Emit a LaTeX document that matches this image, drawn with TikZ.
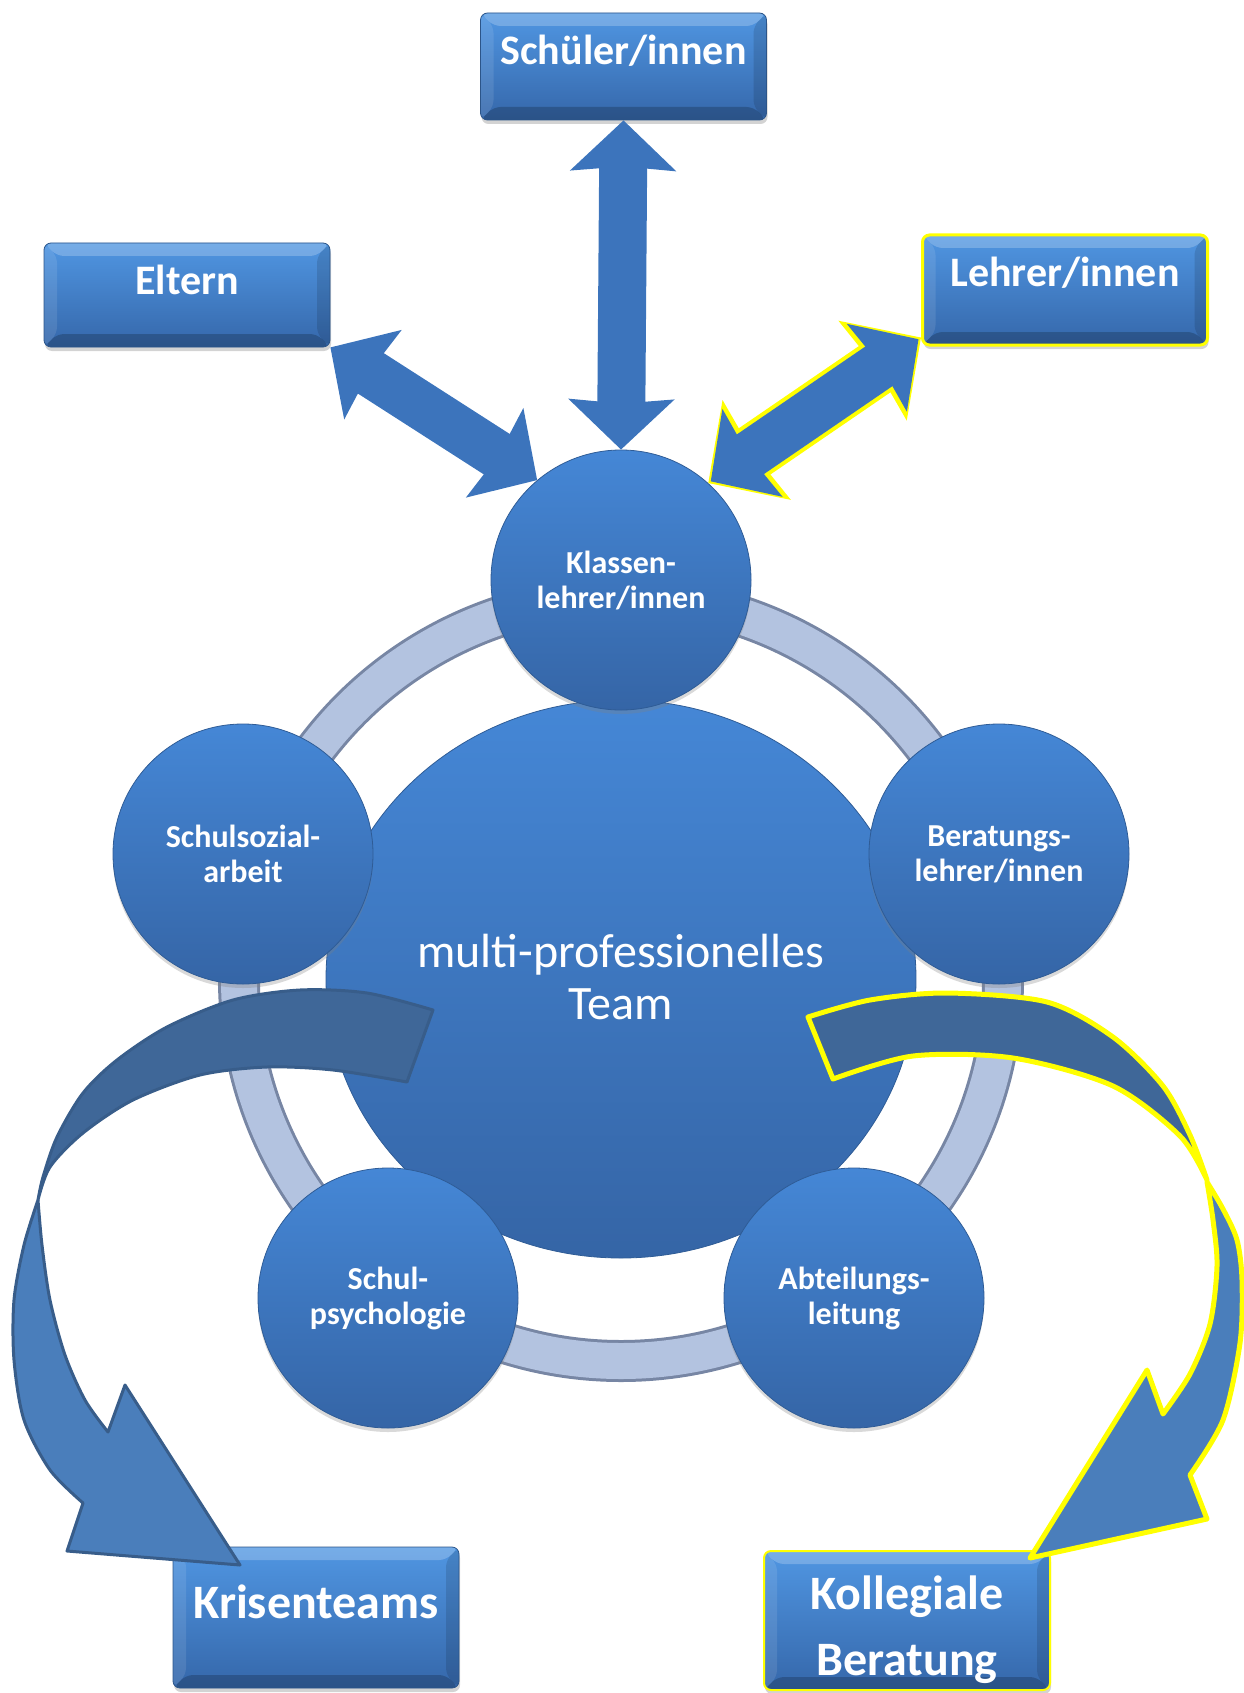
\documentclass[tikz,border=0pt]{standalone}
\usepackage{fontspec}
\setmainfont{Carlito}
\usetikzlibrary{arrows.meta,shapes.geometric,shadows}

\definecolor{tiletop}{HTML}{5096E2}
\definecolor{tilebot}{HTML}{3567AA}
\definecolor{tileline}{HTML}{2C5589}
\definecolor{balltop}{HTML}{4587D6}
\definecolor{ballbot}{HTML}{3565A6}
\definecolor{ballline}{HTML}{2F5C96}
\definecolor{linkblue}{HTML}{3C74BC}
\definecolor{ringfill}{HTML}{B3C3E0}
\definecolor{ringline}{HTML}{7786A4}
\definecolor{backband}{HTML}{3F6798}
\definecolor{frontband}{HTML}{4A7EBB}
\definecolor{bandline}{HTML}{385D8A}
\definecolor{glowyellow}{HTML}{FFFF00}

\tikzset{
  bevel/.style={path picture={
    \fill[white,opacity=0.22] (path picture bounding box.north west) -- (path picture bounding box.north east) -- ([shift={(-13pt,-13pt)}]path picture bounding box.north east) -- ([shift={(13pt,-13pt)}]path picture bounding box.north west) -- cycle;
    \fill[white,opacity=0.10] (path picture bounding box.north west) -- (path picture bounding box.south west) -- ([shift={(13pt,13pt)}]path picture bounding box.south west) -- ([shift={(13pt,-13pt)}]path picture bounding box.north west) -- cycle;
    \fill[black,opacity=0.12] (path picture bounding box.north east) -- (path picture bounding box.south east) -- ([shift={(-13pt,13pt)}]path picture bounding box.south east) -- ([shift={(-13pt,-13pt)}]path picture bounding box.north east) -- cycle;
    \fill[black,opacity=0.20] (path picture bounding box.south west) -- (path picture bounding box.south east) -- ([shift={(-13pt,13pt)}]path picture bounding box.south east) -- ([shift={(13pt,13pt)}]path picture bounding box.south west) -- cycle;
  }},
  tile/.style={rectangle, rounded corners=7pt, draw=tileline, line width=0.8pt,
    top color=tiletop, bottom color=tilebot, minimum width=286pt, inner sep=0pt,
    text height=52pt, text depth=54pt, text=white,
    font=\bfseries\fontsize{42}{50}\selectfont,
    drop shadow={opacity=0.35, shadow xshift=1pt, shadow yshift=-4pt}, bevel},
  glowtile/.style={tile, draw=glowyellow, line width=3pt},
  ball/.style={circle, draw=ballline, line width=0.8pt, top color=balltop, bottom color=ballbot,
    minimum size=260pt, inner sep=0pt, align=center, text=white,
    font=\bfseries\fontsize{32}{35}\selectfont,
    drop shadow={opacity=0.3, shadow xshift=0pt, shadow yshift=-4pt}},
  team/.style={ellipse, draw=ballline, line width=0.8pt, top color=balltop, bottom color=ballbot,
    minimum width=590pt, minimum height=558pt, inner sep=0pt, align=center, text=white,
    font=\fontsize{48}{52}\selectfont},
  ring/.style={draw=ringline, line width=3pt, double=ringfill, double distance=36pt},
  link/.style={line width=48pt, draw=linkblue,
    {Stealth[length=50pt,width=104pt,inset=4pt]}-{Stealth[length=50pt,width=104pt,inset=4pt]}},
  glowlink/.style={line width=56pt, draw=glowyellow,
    {Stealth[length=58pt,width=118pt,inset=4pt]}-{Stealth[length=58pt,width=118pt,inset=4pt]}},
  band/.style={draw=bandline, line width=3pt, line join=round},
  glowband/.style={draw=glowyellow, line width=5pt, line join=round}
}

\begin{document}
\begin{tikzpicture}[x=1pt,y=-1pt]
\useasboundingbox (0,0) rectangle (1243,1693);

\coordinate (hub) at (621,979);
\draw[ring] (hub) circle[radius=382];
\node[team] (team) at (hub) {\raisebox{4pt}{multi-professionelles}\\\raisebox{4pt}{Team}};

\node[ball] (klassen) at (621,580) {Klassen-\\lehrer/innen};
\node[ball] (sozial) at (243,854) {Schulsozial-\\arbeit};
\node[ball] (beratung) at (999,854) {Beratungs-\\lehrer/innen};
\node[ball] (psych) at (388,1298) {Schul-\\psychologie};
\node[ball] (abteilung) at (854,1298) {Abteilungs-\\leitung};

\node[tile, text depth=55pt] (schueler) at (623.5,66.5) {Schüler/innen};
\node[tile, text depth=52pt] (eltern) at (187,295) {Eltern};
\node[glowtile, minimum width=285pt, text depth=58pt] (lehrer) at (1065,290) {Lehrer/innen};
\node[tile, text height=71pt, text depth=70pt, font=\bfseries\fontsize{48}{66}\selectfont] (krisen) at (316,1617.5) {Krisenteams};
\node[glowtile, line width=2pt, text width=286pt, align=center, text height=58pt, text depth=81pt, font=\bfseries\fontsize{48}{66}\selectfont] (kollegial) at (907,1620.5) {Kollegiale\\Beratung};

\coordinate (lehrerfoot) at ([yshift=9pt]lehrer.south west);

\draw[link] (schueler.south) -- (klassen.north);
\draw[link] (eltern.south east) -- (klassen.130);
\draw[glowlink] (lehrerfoot) -- (klassen.48);
\draw[link, shorten <=3pt, shorten >=3pt] (lehrerfoot) -- (klassen.48);

\filldraw[band, fill=backband] plot[smooth] coordinates {(433,1010) (367,993) (300,990) (233,1000) (167,1027) (117,1060) (83,1093) (57,1137) (43,1177) (38,1200)}
  -- plot[smooth] coordinates {(38,1200) (50,1167) (83,1133) (133,1100) (200,1075) (267,1067) (333,1070) (407,1082)} -- cycle;
\filldraw[band, fill=frontband] plot[smooth] coordinates {(38,1200) (24,1245) (14,1300) (14,1360) (24,1420) (50,1470) (83,1503)}
  -- (67,1551) -- (240,1565) -- (125,1385) -- (108,1432)
  -- plot[smooth] coordinates {(108,1432) (85,1400) (65,1355) (50,1300) (42,1245) (38,1200)} -- cycle;

\filldraw[glowband, fill=backband] plot[smooth] coordinates {(808,1017) (870,1000) (947,993) (1047,1002) (1113,1037) (1163,1086) (1190,1135) (1207,1180)}
  -- plot[smooth] coordinates {(1207,1180) (1180,1136) (1113,1086) (1013,1058) (913,1056) (833,1079)} -- cycle;
\filldraw[glowband, fill=frontband] plot[smooth] coordinates {(1207,1182) (1223,1209) (1237,1240) (1242,1280) (1240,1343) (1223,1420) (1190,1475)}
  -- (1207,1519) -- (1030,1558) -- (1147,1370) -- (1163,1414)
  -- plot[smooth] coordinates {(1163,1414) (1190,1374) (1210,1324) (1217,1266) (1213,1220) (1207,1182)} -- cycle;
\end{tikzpicture}
\end{document}
